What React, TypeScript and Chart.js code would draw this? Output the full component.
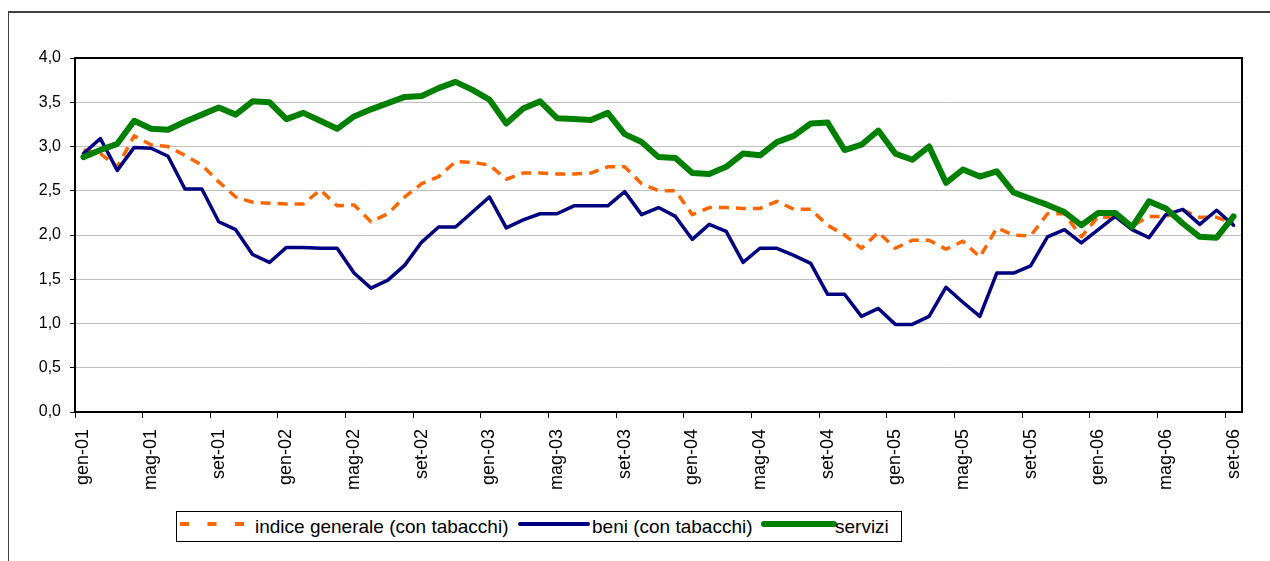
import React, { useEffect, useRef } from 'react';
import { Chart, registerables } from 'chart.js';

Chart.register(...registerables);

const categories = [
  'gen-01', 'feb-01', 'mar-01', 'apr-01', 'mag-01', 'giu-01', 'lug-01', 'ago-01', 'set-01', 'ott-01', 'nov-01', 'dic-01',
  'gen-02', 'feb-02', 'mar-02', 'apr-02', 'mag-02', 'giu-02', 'lug-02', 'ago-02', 'set-02', 'ott-02', 'nov-02', 'dic-02',
  'gen-03', 'feb-03', 'mar-03', 'apr-03', 'mag-03', 'giu-03', 'lug-03', 'ago-03', 'set-03', 'ott-03', 'nov-03', 'dic-03',
  'gen-04', 'feb-04', 'mar-04', 'apr-04', 'mag-04', 'giu-04', 'lug-04', 'ago-04', 'set-04', 'ott-04', 'nov-04', 'dic-04',
  'gen-05', 'feb-05', 'mar-05', 'apr-05', 'mag-05', 'giu-05', 'lug-05', 'ago-05', 'set-05', 'ott-05', 'nov-05', 'dic-05',
  'gen-06', 'feb-06', 'mar-06', 'apr-06', 'mag-06', 'giu-06', 'lug-06', 'ago-06', 'set-06',
];

const indiceGenerale = [
  2.96, 2.92, 2.77, 3.12, 3.02, 3.00, 2.90, 2.79, 2.60, 2.43,
  2.37, 2.36, 2.35, 2.35, 2.51, 2.33, 2.34, 2.15, 2.24, 2.43,
  2.58, 2.66, 2.83, 2.82, 2.79, 2.63, 2.70, 2.70, 2.69, 2.69,
  2.70, 2.77, 2.77, 2.58, 2.50, 2.50, 2.23, 2.31, 2.31, 2.30,
  2.30, 2.38, 2.29, 2.29, 2.11, 2.00, 1.85, 2.03, 1.85, 1.94,
  1.94, 1.84, 1.93, 1.75, 2.08, 2.00, 1.99, 2.24, 2.24, 1.98,
  2.21, 2.19, 2.10, 2.21, 2.21, 2.28, 2.20, 2.20, 2.13,
];

const beni = [
  2.92, 3.09, 2.73, 2.99, 2.98, 2.89, 2.52, 2.52, 2.15, 2.06,
  1.78, 1.69, 1.86, 1.86, 1.85, 1.85, 1.57, 1.40, 1.49, 1.66,
  1.92, 2.09, 2.09, 2.26, 2.43, 2.08, 2.17, 2.24, 2.24, 2.33,
  2.33, 2.33, 2.49, 2.23, 2.31, 2.21, 1.95, 2.12, 2.04, 1.69,
  1.85, 1.85, 1.77, 1.68, 1.33, 1.33, 1.08, 1.17, 0.99, 0.99,
  1.08, 1.41, 1.24, 1.08, 1.57, 1.57, 1.65, 1.98, 2.06, 1.91,
  2.06, 2.21, 2.06, 1.97, 2.23, 2.29, 2.12, 2.28, 2.11,
];

const servizi = [
  2.88, 2.96, 3.03, 3.29, 3.20, 3.19, 3.28, 3.36, 3.44, 3.36,
  3.51, 3.50, 3.31, 3.38, 3.29, 3.20, 3.34, 3.42, 3.49, 3.56,
  3.57, 3.66, 3.73, 3.64, 3.53, 3.26, 3.43, 3.51, 3.32, 3.31,
  3.30, 3.38, 3.14, 3.05, 2.88, 2.87, 2.70, 2.69, 2.77, 2.92,
  2.90, 3.05, 3.12, 3.26, 3.27, 2.96, 3.02, 3.18, 2.92, 2.85,
  3.00, 2.59, 2.74, 2.66, 2.72, 2.48, 2.41, 2.34, 2.26, 2.11,
  2.25, 2.25, 2.09, 2.38, 2.30, 2.13, 1.98, 1.97, 2.21,
];

const seriesNames = ['indice generale (con tabacchi)', 'beni (con tabacchi)', 'servizi'];
const seriesColors = ['#FF6600', '#000080', '#008000'];
const yMin = 0;
const yMax = 4;
const yStep = 0.5;
const labelEvery = 4;

const FONT = "'Liberation Sans', Arial, Helvetica, sans-serif";

const plotFrame = {
  id: 'plotFrame',
  afterDatasetsDraw(chart: any) {
    const { ctx, chartArea: a } = chart;
    ctx.save();
    ctx.strokeStyle = '#000';
    ctx.lineWidth = 2;
    ctx.strokeRect(a.left, a.top, a.right - a.left, a.bottom - a.top);
    ctx.restore();
  },
};

export default function App() {
  const canvasRef = useRef<HTMLCanvasElement | null>(null);

  useEffect(() => {
    const canvas = canvasRef.current;
    if (!canvas) return;
    const chart = new Chart(canvas, {
      type: 'line',
      data: {
        labels: categories,
        datasets: [
          {
            label: seriesNames[0],
            data: indiceGenerale,
            borderColor: seriesColors[0],
            backgroundColor: seriesColors[0],
            borderWidth: 3.5,
            borderDash: [10, 7],
            borderCapStyle: 'butt',
            order: 2,
          },
          {
            label: seriesNames[1],
            data: beni,
            borderColor: seriesColors[1],
            backgroundColor: seriesColors[1],
            borderWidth: 3.5,
            borderCapStyle: 'round',
            order: 1,
          },
          {
            label: seriesNames[2],
            data: servizi,
            borderColor: seriesColors[2],
            backgroundColor: seriesColors[2],
            borderWidth: 6,
            borderCapStyle: 'round',
            order: 0,
          },
        ],
      },
      options: {
        animation: false,
        responsive: false,
        maintainAspectRatio: false,
        devicePixelRatio: 1,
        events: [],
        layout: { padding: { left: 0, top: 58, right: 28, bottom: 59 } },
        elements: {
          point: { radius: 0, hoverRadius: 0 },
          line: { tension: 0, fill: false, borderJoinStyle: 'round' },
        },
        plugins: {
          legend: { display: false },
          tooltip: { enabled: false },
        },
        scales: {
          x: {
            type: 'category',
            offset: true,
            grid: {
              offset: true,
              drawOnChartArea: false,
              drawTicks: true,
              tickLength: 6,
              tickWidth: 1,
              tickColor: (c: any) => (typeof c.index === 'number' && c.index % labelEvery === 0 ? '#000' : 'rgba(0,0,0,0)'),
            },
            border: { display: true, color: '#000', width: 2 },
            ticks: {
              autoSkip: false,
              maxRotation: 90,
              minRotation: 90,
              padding: 11,
              color: '#000',
              font: { family: FONT, size: 18 },
              callback: (_v: any, i: number) => (i % labelEvery === 0 ? categories[i] : ''),
            },
            afterFit: (s: any) => {
              s.height = 90;
            },
          },
          y: {
            min: yMin,
            max: yMax,
            ticks: {
              stepSize: yStep,
              padding: 9,
              color: '#000',
              font: { family: FONT, size: 16 },
              callback: (v: any) => Number(v).toFixed(1).replace('.', ','),
            },
            grid: {
              color: '#c0c0c0',
              lineWidth: 1,
              tickColor: '#000',
              tickLength: 5,
              drawTicks: true,
            },
            border: { display: true, color: '#000', width: 2 },
            afterFit: (s: any) => {
              s.width = 75;
            },
          },
        },
      },
      plugins: [plotFrame],
    } as any);
    return () => chart.destroy();
  }, []);

  const textStyle: React.CSSProperties = {
    position: 'absolute',
    top: 4,
    fontFamily: FONT,
    fontSize: 19,
    color: '#000',
    whiteSpace: 'nowrap',
  };

  return (
    <div style={{ position: 'fixed', left: 0, top: 0, width: '100vw', height: '100vh', overflow: 'hidden', background: '#fff' }}>
      <div
        style={{
          position: 'absolute',
          left: 8,
          top: 11,
          width: 1400,
          height: 700,
          borderTop: '2px solid #404040',
          borderLeft: '1px solid #404040',
        }}
      />
      <canvas
        ref={canvasRef}
        width={1270}
        height={561}
        style={{ position: 'absolute', left: 0, top: 0, width: 1270, height: 561 }}
      />
      <div
        style={{
          position: 'absolute',
          left: 176,
          top: 511,
          width: 724,
          height: 29,
          border: '1px solid #000',
          background: '#fff',
        }}
      >
        <svg style={{ position: 'absolute', left: 3, top: 0 }} width={64} height={29}>
          <line x1={0} y1={12} x2={64} y2={12} stroke={seriesColors[0]} strokeWidth={4} strokeDasharray="9 18.5" />
        </svg>
        <span style={{ ...textStyle, left: 78 }}>{seriesNames[0]}</span>
        <svg style={{ position: 'absolute', left: 340, top: 0 }} width={74} height={29}>
          <line x1={3} y1={12} x2={71} y2={12} stroke={seriesColors[1]} strokeWidth={4} strokeLinecap="round" />
        </svg>
        <span style={{ ...textStyle, left: 415 }}>{seriesNames[1]}</span>
        <svg style={{ position: 'absolute', left: 583, top: 0 }} width={78} height={29}>
          <line x1={4} y1={12} x2={74} y2={12} stroke={seriesColors[2]} strokeWidth={6} strokeLinecap="round" />
        </svg>
        <span style={{ ...textStyle, left: 658 }}>{seriesNames[2]}</span>
      </div>
    </div>
  );
}
